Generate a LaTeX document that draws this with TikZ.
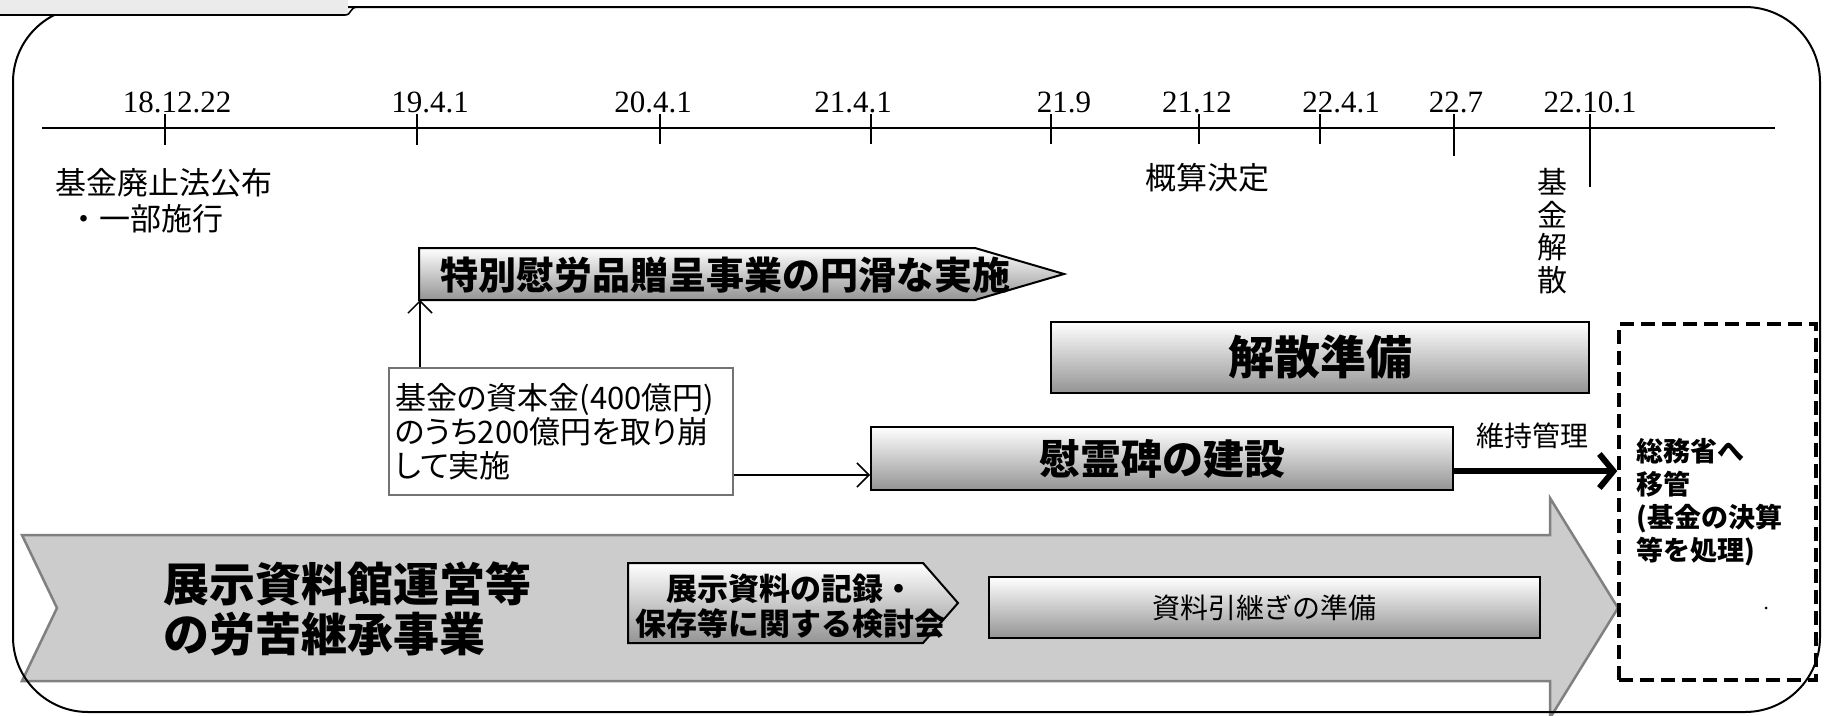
\documentclass[tikz,border=0pt]{standalone}
\usepackage{fontspec}
\usetikzlibrary{arrows.meta}
\newfontfamily\jp{Noto Sans CJK JP}
\newfontfamily\jpp[RawFeature=+palt]{Noto Sans CJK JP}
\newfontfamily\numf{Liberation Serif}
\tikzset{
  frameline/.style={line width=2pt},
  axisline/.style={line width=2.5pt},
  tickline/.style={line width=1.6pt},
  datelbl/.style={font=\numf\fontsize{31}{34}\selectfont, inner sep=0pt},
  jplbl/.style={font=\jp\fontsize{31}{36}\selectfont, inner sep=0pt},
  gshade/.style={top color=white, bottom color=black!42, draw=black, line width=2pt},
  gbox/.style={gshade, inner sep=0pt},
  thinarrow/.style={line width=1.5pt, -{Straight Barb[length=12pt,width=24pt]}},
  thickarrow/.style={line width=6pt, -{Straight Barb[length=14pt,width=34pt]}},
}
\begin{document}
\begin{tikzpicture}[x=1pt,y=-1pt]
\useasboundingbox (0,0) rectangle (1825,715);

% big background arrow
\path[fill=black!20, draw=black!50, line width=2.5pt]
  (22,535) -- (1550,535) -- (1550,498) -- (1618,608) -- (1550,718)
  -- (1550,681) -- (22,681) -- (57,608) -- cycle;

% frame
\draw[frameline, rounded corners=75pt] (13,7) rectangle (1820,712);
% tab
\fill[black!8] (0,0) rectangle (348,15);
\draw[line width=1.6pt] (0,15) -- (345,15) .. controls (352,15) and (349,7) .. (358,7);

% timeline
\draw[axisline] (42,128) -- (1775,128);
\foreach \x/\b in {165/145,417/145,660/144,871/144,1051/144,1199/144,1320/144,1454/156,1590/187}
  \draw[tickline] (\x,114) -- (\x,\b);
\node[datelbl] (d1) at (177,102) {18.12.22};
\node[datelbl] (d2) at (430,102) {19.4.1};
\node[datelbl] (d3) at (653,102) {20.4.1};
\node[datelbl] (d4) at (853,102) {21.4.1};
\node[datelbl] (d5) at (1064,102) {21.9};
\node[datelbl] (d6) at (1197,102) {21.12};
\node[datelbl] (d7) at (1341,102) {22.4.1};
\node[datelbl] (d8) at (1456,102) {22.7};
\node[datelbl] (d9) at (1590,102) {22.10.1};

\node[jplbl, anchor=west] (haishi) at (55,183) {基金廃止法公布};
\node[jplbl, anchor=west] (shiko) at (68,219) {・一部施行};
\node[jplbl] (gaisan) at (1207,178) {概算決定};
\node[jplbl, align=center, font=\jp\fontsize{30}{32.5}\selectfont] (kaisan) at (1552,231) {基\\金\\解\\散};

% special gift pentagon
\path[gshade] (419,248) -- (975,248) -- (1064,274) -- (975,300) -- (419,300) -- cycle;
\node[inner sep=0pt, font=\jp\bfseries\fontsize{38}{40}\selectfont] (tokubetsu) at (725,275) {特別慰労品贈呈事業の円滑な実施};
\coordinate (p1b) at (420,300);

% funding box
\node[draw=black!55, line width=1.2pt, minimum width=344, minimum height=127,
      text width=332, align=left, inner xsep=6, inner ysep=0,
      font=\jpp\fontsize{31}{34}\selectfont] (fund) at (561,431.5)
  {基金の資本金(400億円)\\のうち200億円を取り崩\\して実施};

% boxes
\node[gbox, minimum width=538, minimum height=71, font=\jp\bfseries\fontsize{46}{50}\selectfont] (junbi) at (1320,357.5) {解散準備};
\node[gbox, minimum width=582, minimum height=63, font=\jp\bfseries\fontsize{41}{46}\selectfont] (ireihi) at (1162,458.5) {慰霊碑の建設};
\node[gbox, minimum width=551, minimum height=61, font=\jp\fontsize{28}{32}\selectfont] (hikitsugi) at (1264.5,607.5) {資料引継ぎの準備};

% study group pentagon
\path[gshade] (628,563) -- (923,563) -- (958,603) -- (923,643) -- (628,643) -- cycle;
\node[inner sep=0pt, align=center, font=\jp\bfseries\fontsize{31}{35}\selectfont] (kentou) at (790,606) {展示資料の記録・\\保存等に関する検討会};

% big arrow text
\node[inner sep=0pt, align=left, anchor=west, font=\jp\bfseries\fontsize{46}{50}\selectfont] (tenji) at (163,609) {展示資料館運営等\\の労苦継承事業};

% dashed box
\node[draw=black, line width=3.5pt, dash pattern=on 14pt off 7pt,
      minimum width=197, minimum height=356, text width=162, align=left,
      inner sep=0pt, font=\jp\bfseries\fontsize{27}{33}\selectfont] (somu) at (1717.5,502)
  {総務省へ\\移管\\(基金の決算\\等を処理)};
\fill (1766,608) circle (1.5pt);

% label
\node[inner sep=0pt, font=\jp\fontsize{28}{32}\selectfont] (iji) at (1532,436) {維持管理};

% connectors
\coordinate (ua) at (420,0);
\draw[thinarrow] (fund.north -| ua) -- (p1b);
\coordinate (fa) at (0,475);
\draw[thinarrow] (fund.east |- fa) -- (ireihi.west |- fa);
\coordinate (ia) at (0,471);
\draw[thickarrow] (ireihi.east |- ia) -- (somu.west |- ia);
\end{tikzpicture}
\end{document}
